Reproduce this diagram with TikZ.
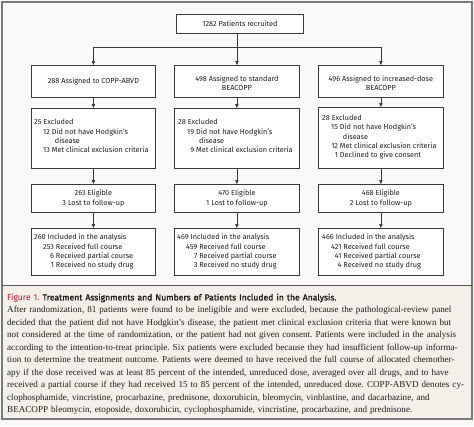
\documentclass[tikz,border=0pt]{standalone}
\usepackage{fontspec}
\setmainfont{Liberation Serif}
\newfontfamily\boxfont{Fira Sans}
\newfontfamily\semifont{Fira Sans}[FakeBold=1.6]
\usetikzlibrary{arrows.meta}
\definecolor{framegray}{HTML}{7A7A7A}
\definecolor{linegray}{HTML}{3A3A3A}
\definecolor{topbg}{HTML}{F9F9F9}
\definecolor{capbg}{HTML}{F3F0EA}
\definecolor{figred}{HTML}{C41230}
\definecolor{txtcol}{HTML}{1E1E1E}
\newcommand\capln[1]{\leavevmode\hbox to 458bp{#1}}
\begin{document}
\begin{tikzpicture}[x=1bp,y=-1bp,
  box/.style={draw=linegray, line width=0.8bp, fill=white, inner sep=0pt, anchor=north west},
  txt/.style={font=\boxfont\fontsize{7.3bp}{9.3bp}\selectfont, inner sep=0pt, text=txtcol, align=center},
  arr/.style={-{Triangle[length=4bp,width=3.4bp]}, draw=linegray, line width=0.7bp},
  lnk/.style={draw=linegray, line width=0.7bp},
  captxt/.style={font=\fontsize{9.1bp}{12.5bp}\selectfont, inner sep=0pt, text=txtcol, text width=460bp, align=left, anchor=north west}]
\useasboundingbox (0,0) rectangle (474,426);
\fill[white!95!gray] (0,0) rectangle (474,426);
\fill[topbg] (2,2) rectangle (472,285);
\fill[capbg] (2,285) rectangle (472,419);
\draw[framegray, line width=1.5bp] (2,2) rectangle (472,419);
\draw[framegray!70!black, line width=1bp] (2,285) -- (472,285);

% boxes
\node[box, minimum width=127bp, minimum height=19bp] (top) at (176,14) {};
\node[box, minimum width=124bp, minimum height=32bp] (l2) at (31,65) {};
\node[box, minimum width=125bp, minimum height=32bp] (m2) at (174,65) {};
\node[box, minimum width=125bp, minimum height=32bp] (r2) at (318,65) {};
\node[box, minimum width=124bp, minimum height=60bp] (l3) at (31,108) {};
\node[box, minimum width=125bp, minimum height=60bp] (m3) at (174,108) {};
\node[box, minimum width=125bp, minimum height=61bp] (r3) at (318,107) {};
\node[box, minimum width=124bp, minimum height=28bp] (l4) at (31,184) {};
\node[box, minimum width=125bp, minimum height=28bp] (m4) at (174,184) {};
\node[box, minimum width=125bp, minimum height=28bp] (r4) at (318,184) {};
\node[box, minimum width=124bp, minimum height=47bp] (l5) at (31,228) {};
\node[box, minimum width=125bp, minimum height=47bp] (m5) at (174,228) {};
\node[box, minimum width=125bp, minimum height=47bp] (r5) at (318,228) {};

% texts
\node[txt] (ttop) at (top.center) {1282 Patients recruited};
\node[txt] (tl2) at (l2.center) {288 Assigned to COPP-ABVD};
\node[txt] (tm2) at ([yshift=-1.5bp]m2.center) {498 Assigned to standard\\BEACOPP};
\node[txt] (tr2) at ([yshift=-1.5bp]r2.center) {496 Assigned to increased-dose\\BEACOPP};

\node[txt, anchor=west, align=left] (tl3) at ([xshift=3bp,yshift=1.5bp]l3.west) {%
\begin{tabular}{@{\hspace{9bp}}r@{ }l@{}}
\multicolumn{2}{@{}l}{25 Excluded}\\
12 & Did not have Hodgkin’s\\
 & \hspace*{3bp}disease\\
13 & Met clinical exclusion criteria
\end{tabular}};
\node[txt, anchor=west, align=left] (tm3) at ([xshift=4bp,yshift=1.5bp]m3.west) {%
\begin{tabular}{@{\hspace{9bp}}r@{ }l@{}}
\multicolumn{2}{@{}l}{28 Excluded}\\
19 & Did not have Hodgkin’s\\
 & \hspace*{3bp}disease\\
9 & Met clinical exclusion criteria
\end{tabular}};
\node[txt, anchor=west, align=left] (tr3) at ([xshift=4bp,yshift=0.5bp]r3.west) {%
\begin{tabular}{@{\hspace{9bp}}r@{ }l@{}}
\multicolumn{2}{@{}l}{28 Excluded}\\
15 & Did not have Hodgkin’s\\
 & \hspace*{3bp}disease\\
12 & Met clinical exclusion criteria\\
1 & Declined to give consent
\end{tabular}};

\node[txt] (tl4) at (l4.center) {263 Eligible\\3 Lost to follow-up};
\node[txt] (tm4) at (m4.center) {470 Eligible\\1 Lost to follow-up};
\node[txt] (tr4) at (r4.center) {468 Eligible\\2 Lost to follow-up};

\node[txt, anchor=west, align=left] (tl5) at ([xshift=3bp]l5.west) {%
\begin{tabular}{@{\hspace{9bp}}r@{ }l@{}}
\multicolumn{2}{@{}l}{260 Included in the analysis}\\
253 & Received full course\\
6 & Received partial course\\
1 & Received no study drug
\end{tabular}};
\node[txt, anchor=west, align=left] (tm5) at ([xshift=3bp]m5.west) {%
\begin{tabular}{@{\hspace{9bp}}r@{ }l@{}}
\multicolumn{2}{@{}l}{469 Included in the analysis}\\
459 & Received full course\\
7 & Received partial course\\
3 & Received no study drug
\end{tabular}};
\node[txt, anchor=west, align=left] (tr5) at ([xshift=4bp]r5.west) {%
\begin{tabular}{@{\hspace{9bp}}r@{ }l@{}}
\multicolumn{2}{@{}l}{466 Included in the analysis}\\
421 & Received full course\\
41 & Received partial course\\
4 & Received no study drug
\end{tabular}};

% connectors
\coordinate (jM) at (237,47);
\coordinate (jL) at (jM -| l2.north);
\coordinate (jR) at (jM -| r2.north);
\draw[lnk] (top.south -| jM) -- (jM);
\draw[lnk] (jL) -- (jR);
\draw[arr] (jL) -- (l2.north);
\draw[arr] (jM) -- (jM |- m2.north);
\draw[arr] (jR) -- (r2.north);
\foreach \c in {l,m,r}{
  \draw[arr] (\c2.south) -- (\c3.north);
  \draw[arr] (\c3.south) -- (\c4.north);
  \draw[arr] (\c4.south) -- (\c5.north);
}

% caption
\node[captxt] (cap) at (7,293.5) {\frenchspacing {\boxfont\fontsize{8.6bp}{12.5bp}\selectfont\color{figred}Figure 1.} {\semifont\fontsize{8.6bp}{12.5bp}\selectfont Treatment Assignments and Numbers of Patients Included in the Analysis.}\\
\capln{After randomization, 81 patients were found to be ineligible and were excluded, because the pathological-review panel}\\
\capln{decided that the patient did not have Hodgkin’s disease, the patient met clinical exclusion criteria that were known but}\\
\capln{not considered at the time of randomization, or the patient had not given consent. Patients were included in the analysis}\\
\capln{according to the intention-to-treat principle. Six patients were excluded because they had insufficient follow-up informa-}\\
\capln{tion to determine the treatment outcome. Patients were deemed to have received the full course of allocated chemother-}\\
\capln{apy if the dose received was at least 85 percent of the intended, unreduced dose, averaged over all drugs, and to have}\\
\capln{received a partial course if they had received 15 to 85 percent of the intended, unreduced dose. COPP-ABVD denotes cy-}\\
clophosphamide, vincristine, procarbazine, prednisone, doxorubicin, bleomycin, vinblastine, and dacarbazine, and\\
BEACOPP bleomycin, etoposide, doxorubicin, cyclophosphamide, vincristine, procarbazine, and prednisone.};
\end{tikzpicture}
\end{document}
